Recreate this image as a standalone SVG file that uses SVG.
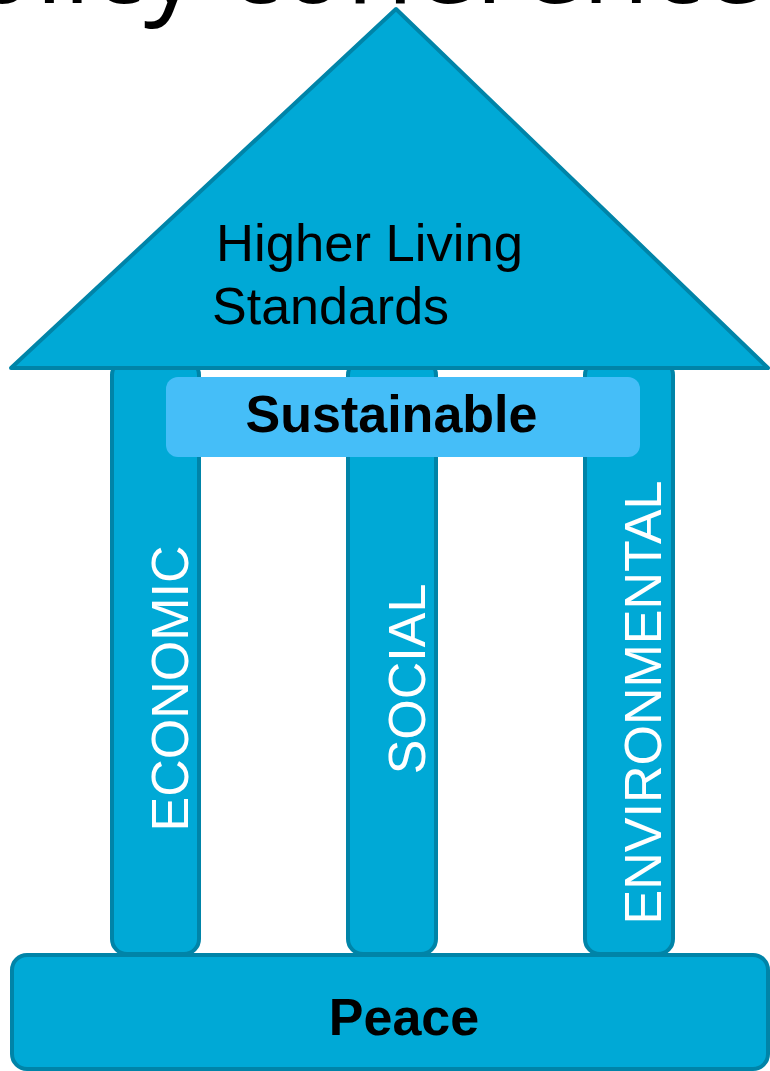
<svg xmlns="http://www.w3.org/2000/svg" width="770" height="1071" viewBox="0 0 770 1071">
<style>
.shape{fill:#00A9D6;stroke:#0084A8;stroke-width:4;stroke-linejoin:round}
.lbl{font-family:"Liberation Sans",Arial,sans-serif;font-size:52px}
.bold{font-weight:bold}
.white{fill:#FFFFFF}
.title{font-family:"Open Sans","Noto Sans",sans-serif;font-size:110px;fill:#000000}
</style>
<rect width="770" height="1071" fill="#FFFFFF"/>
<text class="title" x="-98" y="3">policy coherence</text>
<g id="pillar-economic">
<rect class="shape" x="112" y="360" width="87" height="594" rx="15"/>
<text class="lbl white" transform="translate(188,688.5) rotate(-90)" text-anchor="middle">ECONOMIC</text>
</g>
<g id="pillar-social">
<rect class="shape" x="348" y="360" width="88" height="594" rx="15"/>
<text class="lbl white" transform="translate(425,679) rotate(-90)" text-anchor="middle">SOCIAL</text>
</g>
<g id="pillar-environmental">
<rect class="shape" x="585" y="360" width="88" height="594" rx="15"/>
<text class="lbl white" transform="translate(661,702.5) rotate(-90)" text-anchor="middle">ENVIRONMENTAL</text>
</g>
<g id="roof">
<polygon class="shape" points="396,9 768,368 11,368"/>
<text class="lbl" x="216" y="261" textLength="307" lengthAdjust="spacingAndGlyphs">Higher Living</text>
<text class="lbl" x="212" y="324">Standards</text>
</g>
<g id="sustainable">
<rect x="166" y="377" width="474" height="80" rx="12" fill="#45BEF8"/>
<text class="lbl bold" x="391.5" y="432" text-anchor="middle">Sustainable</text>
</g>
<g id="peace">
<rect class="shape" x="12" y="955" width="756" height="114" rx="15"/>
<text class="lbl bold" x="404" y="1035" text-anchor="middle">Peace</text>
</g>
<g id="connectors"></g>
</svg>
